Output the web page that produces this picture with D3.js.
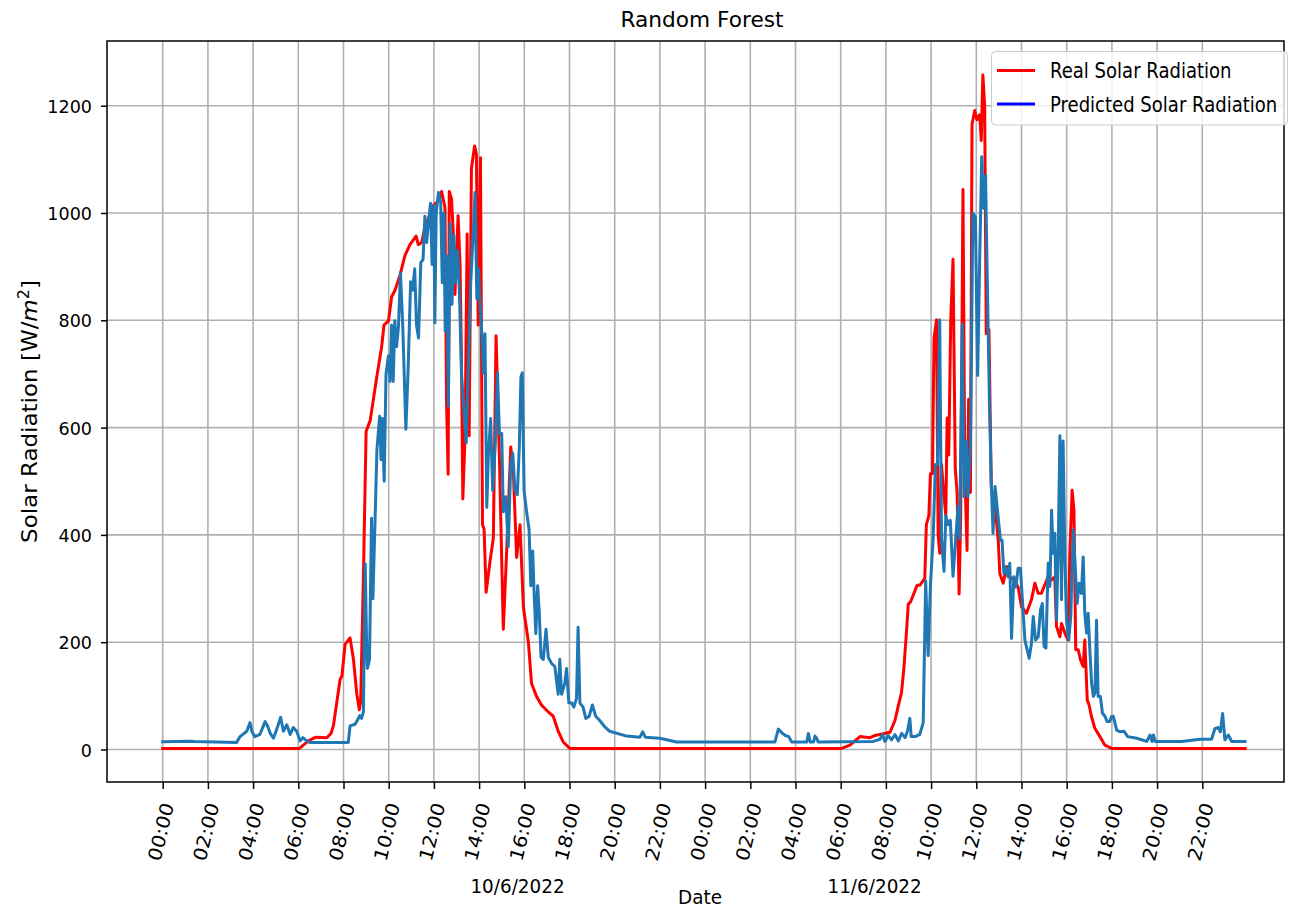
<!DOCTYPE html>
<html>
<head>
<meta charset="utf-8">
<script src="https://cdn.jsdelivr.net/npm/d3@7"></script>
<style>
  html, body { margin: 0; padding: 0; background: #ffffff; }
  svg { display: block; font-family: "DejaVu Sans", sans-serif; }
</style>
</head>
<body>
<svg id="chart" width="1294" height="908"></svg>
<script>
// ---------------- DATA ----------------
const chartTitle = "Random Forest";
const xAxisTitle = "Date";
const yAxisTitle = "Solar Radiation [W/";
const seriesNames = ["Real Solar Radiation", "Predicted Solar Radiation"];

// x tick positions (hours from 10/6/2022 00:00) and their labels
const tickHours = [0,2,4,6,8,10,12,14,16,18,20,22,24,26,28,30,32,34,36,38,40,42,44,46];
const tickLabels = ["00:00","02:00","04:00","06:00","08:00","10:00","12:00","14:00","16:00","18:00","20:00","22:00",
                    "00:00","02:00","04:00","06:00","08:00","10:00","12:00","14:00","16:00","18:00","20:00","22:00"];
const yTicks = [0, 200, 400, 600, 800, 1000, 1200];
const dateLabels = ["10/6/2022", "11/6/2022"];
const dateLabelHours = [15.7, 31.5];

// Real solar radiation: [hour, W/m2]
const realSeries = [
  [0,2],[6.05,2],[6.22,8],[6.45,16],[6.67,21],[6.81,23],[7.26,22],[7.45,30],[7.56,46],[7.7,87],[7.85,131],[7.93,137],
  [8.07,196],[8.29,208],[8.44,168],[8.59,103],[8.7,74],[8.76,90],[8.88,321],[9.0,593],[9.18,613],[9.47,694],[9.69,751],
  [9.79,791],[9.99,799],[10.13,844],[10.28,856],[10.5,884],[10.72,921],[10.94,941],[11.21,957],[11.31,941],[11.46,945],
  [11.6,973],[11.75,989],[11.97,1014],[12.19,1022],[12.34,1040],[12.49,1010],[12.56,645],[12.63,513],[12.68,1040],
  [12.78,1026],[12.85,969],[12.93,848],[13.07,995],[13.16,900],[13.22,720],[13.28,467],[13.38,585],[13.47,961],
  [13.56,585],[13.66,1083],[13.8,1125],[13.88,1110],[13.96,791],[14.06,1103],[14.15,419],[14.22,411],[14.31,293],
  [14.49,353],[14.63,394],[14.75,771],[14.9,540],[15.07,224],[15.22,370],[15.4,564],[15.51,524],[15.66,358],[15.81,419],
  [15.96,265],[16.18,200],[16.32,123],[16.54,99],[16.76,83],[17.06,70],[17.28,62],[17.5,34],[17.72,14],[18.01,2],
  [30.04,2],[30.41,8],[30.85,24],[31.3,22],[31.5,26],[31.74,28],[32.18,32],[32.4,54],[32.54,80],[32.69,106],[32.79,149],
  [32.91,219],[32.99,271],[33.09,275],[33.21,288],[33.38,306],[33.5,306],[33.72,319],[33.79,419],[33.9,436],[33.97,514],
  [34.06,514],[34.13,766],[34.24,801],[34.31,401],[34.38,366],[34.46,531],[34.56,479],[34.65,436],[34.71,618],[34.78,549],
  [34.87,801],[34.97,914],[35.07,523],[35.15,479],[35.24,290],[35.31,436],[35.41,1044],[35.49,523],[35.59,371],[35.66,653],
  [35.74,479],[35.81,1165],[35.93,1191],[36.03,1174],[36.15,1183],[36.22,1135],[36.29,1257],[36.37,1200],[36.44,775],
  [36.56,783],[36.66,490],[36.86,440],[36.97,390],[37.04,328],[37.19,310],[37.34,341],[37.48,322],[37.66,316],[37.85,303],
  [38.0,266],[38.22,254],[38.44,279],[38.59,310],[38.74,291],[38.88,291],[39.03,307],[39.18,322],[39.33,316],[39.47,322],
  [39.55,229],[39.7,210],[39.77,235],[39.92,217],[40.06,204],[40.14,366],[40.24,483],[40.32,446],[40.4,186],[40.51,186],
  [40.61,167],[40.73,155],[40.8,204],[40.91,92],[40.99,83],[41.1,61],[41.24,40],[41.47,24],[41.69,8],[41.99,2],[47.9,2]
];

// Predicted solar radiation: [hour, W/m2]
const predSeries = [
  [0,14.5],[1.2,15.5],[1.4,15],[3.27,13],[3.42,24],[3.72,34],[3.86,50],[3.95,33],[4.08,24],[4.3,28],[4.53,52],[4.64,44],
  [4.76,30],[4.9,21],[5.04,37],[5.22,60],[5.34,34],[5.49,46],[5.64,28],[5.78,41],[5.93,34],[6.08,16],[6.2,22],[6.37,16],
  [6.51,13],[8.21,13],[8.29,44],[8.51,47],[8.62,55],[8.72,63],[8.8,58],[8.88,70],[8.96,346],[9.03,180],[9.06,151],
  [9.15,168],[9.24,431],[9.3,281],[9.38,402],[9.48,560],[9.6,621],[9.66,540],[9.72,617],[9.8,500],[9.88,700],[9.99,734],
  [10.06,686],[10.13,791],[10.2,686],[10.27,799],[10.35,751],[10.43,787],[10.52,888],[10.62,791],[10.76,597],[10.86,710],
  [10.97,872],[11.06,856],[11.15,896],[11.23,791],[11.32,767],[11.42,908],[11.52,913],[11.6,994],[11.68,945],[11.76,981],
  [11.85,1018],[11.92,904],[12.0,1014],[12.04,795],[12.1,1000],[12.2,1038],[12.3,1020],[12.37,870],[12.44,1000],
  [12.5,780],[12.57,920],[12.64,640],[12.72,980],[12.8,830],[12.88,960],[12.95,870],[13.05,930],[13.13,850],[13.22,700],
  [13.31,645],[13.43,572],[13.53,726],[13.63,872],[13.75,969],[13.82,1038],[13.9,840],[13.97,896],[14.04,832],[14.12,775],
  [14.19,702],[14.26,775],[14.34,451],[14.41,548],[14.51,617],[14.6,483],[14.71,564],[14.81,702],[14.9,589],[15.0,589],
  [15.07,443],[15.18,471],[15.29,378],[15.4,532],[15.49,552],[15.59,483],[15.69,475],[15.78,564],[15.85,694],[15.91,702],
  [15.99,483],[16.1,443],[16.21,411],[16.29,305],[16.37,370],[16.43,297],[16.51,216],[16.59,305],[16.66,257],[16.74,172],
  [16.84,168],[16.96,224],[17.06,172],[17.21,160],[17.35,155],[17.5,103],[17.57,168],[17.65,103],[17.79,123],[17.87,151],
  [17.97,87],[18.09,87],[18.19,79],[18.31,95],[18.38,228],[18.46,87],[18.6,79],[18.72,58],[18.87,62],[19.01,83],[19.16,62],
  [19.34,54],[19.56,42],[19.78,34],[20.53,25],[21.12,23],[21.24,33],[21.35,23],[22.0,21],[22.74,14],[27.09,14],[27.24,38],
  [27.4,31],[27.55,26],[27.7,24],[27.83,14],[28.5,14],[28.57,30],[28.65,14],[28.8,14],[28.86,25],[28.95,20],[29.0,14],
  [31.44,15],[31.74,19],[31.85,28],[31.96,15],[32.1,26],[32.25,18],[32.4,28],[32.55,16],[32.7,30],[32.85,22],[32.96,35],
  [33.06,58],[33.12,24],[33.3,24],[33.5,28],[33.65,50],[33.76,314],[33.87,175],[33.97,306],[34.09,393],[34.19,531],
  [34.28,531],[34.38,801],[34.46,393],[34.57,332],[34.65,436],[34.75,419],[34.85,427],[34.97,323],[35.09,393],[35.19,453],
  [35.26,393],[35.38,792],[35.46,471],[35.56,575],[35.63,471],[35.74,566],[35.85,1000],[35.96,992],[36.06,697],[36.15,914],
  [36.24,1105],[36.32,1009],[36.41,1070],[36.47,914],[36.59,627],[36.67,490],[36.74,403],[36.83,490],[36.95,440],
  [37.07,390],[37.14,390],[37.22,328],[37.3,340],[37.4,322],[37.48,347],[37.56,207],[37.66,322],[37.75,303],[37.85,338],
  [37.95,338],[38.04,279],[38.15,204],[38.25,186],[38.34,170],[38.44,198],[38.52,248],[38.62,204],[38.74,210],[38.84,260],
  [38.92,272],[39.0,192],[39.08,189],[39.18,347],[39.26,304],[39.33,446],[39.4,366],[39.47,403],[39.55,241],[39.62,366],
  [39.7,585],[39.77,279],[39.84,575],[39.92,354],[39.99,241],[40.09,204],[40.18,248],[40.29,409],[40.36,354],[40.46,272],
  [40.55,310],[40.65,291],[40.73,359],[40.8,254],[40.88,217],[40.95,254],[41.03,180],[41.1,124],[41.18,99],[41.25,105],
  [41.32,241],[41.39,99],[41.49,99],[41.58,68],[41.69,62],[41.79,52],[41.9,52],[41.99,62],[42.06,62],[42.21,36],[42.35,33],
  [42.53,34],[42.7,24],[43.1,21],[43.54,15],[43.69,27],[43.78,15],[43.84,27],[43.91,15],[45.09,15],[45.9,19],[46.41,19],
  [46.56,39],[46.7,41],[46.8,33],[46.9,67],[47.0,18],[47.15,27],[47.3,15],[47.89,15]
];

// ---------------- LAYOUT ----------------
const W = 1294, H = 908;
const plot = { left: 107, right: 1284, top: 41, bottom: 782 };
const realColor = "#ff0000";
const predColor = "#1f77b4";
const predLegendColor = "#0000ff";
const gridColor = "#b0b0b0";

const svg = d3.select("#chart");
svg.append("rect").attr("width", W).attr("height", H).attr("fill", "#ffffff");

const x = d3.scaleLinear().domain([-2.465, 49.615]).range([plot.left, plot.right]);
const y = d3.scaleLinear().domain([-60.6, 1320.6]).range([plot.bottom, plot.top]);

// grid
const grid = svg.append("g");
grid.selectAll("line.vx").data(tickHours).enter().append("line")
  .attr("x1", d => x(d)).attr("x2", d => x(d))
  .attr("y1", plot.top).attr("y2", plot.bottom)
  .attr("stroke", gridColor).attr("stroke-width", 1.6);
grid.selectAll("line.hy").data(yTicks).enter().append("line")
  .attr("x1", plot.left).attr("x2", plot.right)
  .attr("y1", d => y(d)).attr("y2", d => y(d))
  .attr("stroke", gridColor).attr("stroke-width", 1.6);

// clip
svg.append("clipPath").attr("id", "clip").append("rect")
  .attr("x", plot.left).attr("y", plot.top)
  .attr("width", plot.right - plot.left).attr("height", plot.bottom - plot.top);

const line = d3.line().x(d => x(d[0])).y(d => y(d[1]));
const lines = svg.append("g").attr("clip-path", "url(#clip)");
lines.append("path").datum(realSeries).attr("d", line)
  .attr("fill", "none").attr("stroke", realColor).attr("stroke-width", 3)
  .attr("stroke-linejoin", "round").attr("stroke-linecap", "square");
lines.append("path").datum(predSeries).attr("d", line)
  .attr("fill", "none").attr("stroke", predColor).attr("stroke-width", 3)
  .attr("stroke-linejoin", "round").attr("stroke-linecap", "square");

// axes
const xAxis = d3.axisBottom(x).tickValues(tickHours).tickFormat((d, i) => tickLabels[i]).tickSize(7).tickSizeOuter(0);
const gx = svg.append("g").attr("transform", `translate(0,${plot.bottom})`).call(xAxis);
gx.select(".domain").remove();
gx.selectAll(".tick line").attr("stroke", "#000").attr("stroke-width", 1.5);
gx.selectAll(".tick text")
  .attr("x", null).attr("y", null).attr("dy", "0.36em")
  .attr("text-anchor", "middle")
  .attr("font-size", 20.5).attr("fill", "#000")
  .attr("font-family", "DejaVu Sans")
  .attr("transform", "translate(-2.4,49.7) scale(0.9,1) rotate(-75)");

const yAxis = d3.axisLeft(y).tickValues(yTicks).tickFormat(d3.format("d")).tickSize(6).tickSizeOuter(0);
const gy = svg.append("g").attr("transform", `translate(${plot.left},0)`).call(yAxis);
gy.select(".domain").remove();
gy.selectAll(".tick line").attr("stroke", "#000").attr("stroke-width", 1.5);
gy.selectAll(".tick text")
  .attr("x", null).attr("dy", "0.36em")
  .attr("text-anchor", "end")
  .attr("font-size", 18.5).attr("fill", "#000")
  .attr("font-family", "DejaVu Sans")
  .attr("transform", "translate(-15,0) scale(0.95,1)");

// spines
svg.append("rect").attr("x", plot.left).attr("y", plot.top)
  .attr("width", plot.right - plot.left).attr("height", plot.bottom - plot.top)
  .attr("fill", "none").attr("stroke", "#000").attr("stroke-width", 1.5);

// title
svg.append("text").text(chartTitle)
  .attr("transform", "translate(702,27) scale(0.985,1)")
  .attr("text-anchor", "middle").attr("font-size", 22).attr("fill", "#000");

// x label + dates
svg.append("text").text(xAxisTitle)
  .attr("transform", "translate(700,904) scale(0.92,1)")
  .attr("text-anchor", "middle").attr("font-size", 20).attr("fill", "#000");
svg.selectAll("text.date").data(dateLabels).enter().append("text")
  .attr("class", "date")
  .attr("transform", (d, i) => `translate(${x(dateLabelHours[i])},893) scale(0.92,1)`)
  .attr("text-anchor", "middle").attr("font-size", 20).attr("fill", "#000")
  .text(d => d);

// y label
const yl = svg.append("text")
  .attr("transform", "translate(37,411.5) scale(0.94,1) rotate(-90)")
  .attr("text-anchor", "middle").attr("font-size", 23).attr("fill", "#000");
yl.append("tspan").text(yAxisTitle);
yl.append("tspan").text("m").attr("font-style", "italic");
yl.append("tspan").text("2").attr("font-size", 16).attr("dy", "-0.55em");
yl.append("tspan").text("]").attr("dy", "0.4em");

// legend
const lg = svg.append("g");
lg.append("rect").attr("x", 991.5).attr("y", 51.5).attr("width", 296).attr("height", 73.5)
  .attr("rx", 4).attr("fill", "#ffffff").attr("fill-opacity", 0.8)
  .attr("stroke", "#cccccc").attr("stroke-width", 1);
const legendColors = [realColor, predLegendColor];
const legendY = [70.5, 104];
seriesNames.forEach((name, i) => {
  lg.append("line").attr("x1", 997).attr("x2", 1035).attr("y1", legendY[i]).attr("y2", legendY[i])
    .attr("stroke", legendColors[i]).attr("stroke-width", 3);
  lg.append("text").text(name)
    .attr("transform", `translate(1050,${legendY[i] + 7.5}) scale(0.88,1)`)
    .attr("font-size", 20.5).attr("fill", "#000");
});
</script>
</body>
</html>
